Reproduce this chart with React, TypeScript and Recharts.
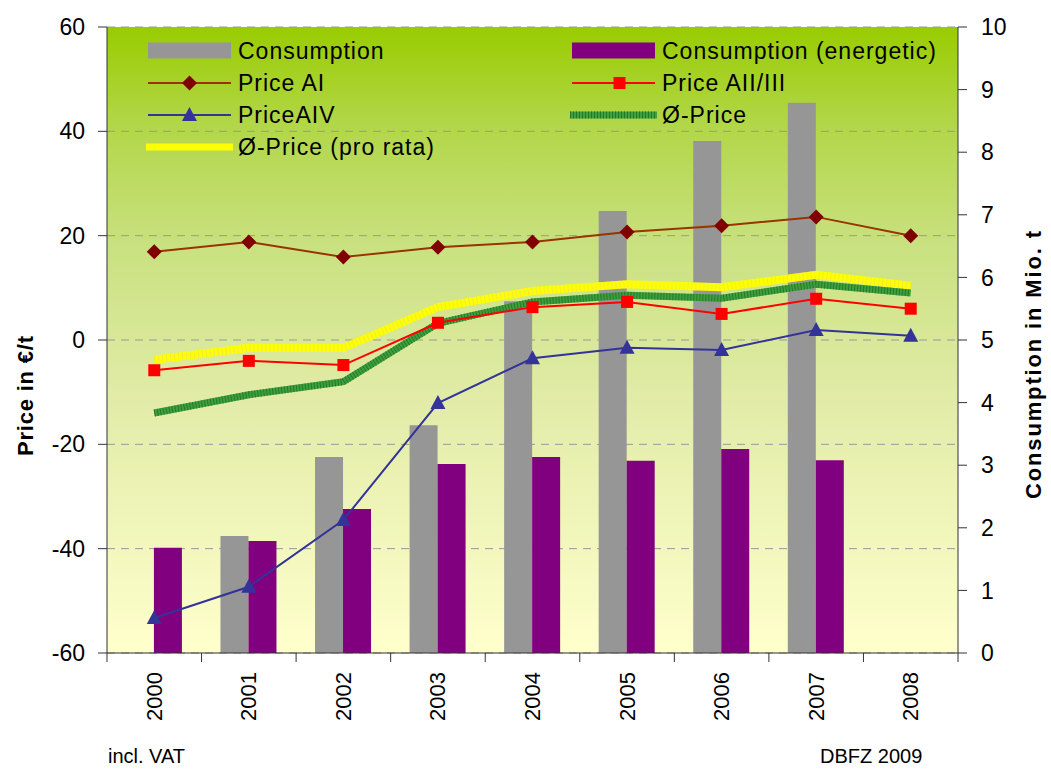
import React from 'react';
import { ComposedChart, Bar, Line, XAxis, YAxis, CartesianGrid } from 'recharts';

const years = ['2000', '2001', '2002', '2003', '2004', '2005', '2006', '2007', '2008'];
const consumption = [null, 1.87, 3.13, 3.64, 5.62, 7.06, 8.18, 8.79, null];
const consumptionEnergetic = [1.68, 1.79, 2.3, 3.02, 3.13, 3.07, 3.26, 3.08, null];
const priceAI = [16.9, 18.8, 15.9, 17.8, 18.8, 20.7, 21.9, 23.6, 20.0];
const priceAII = [-5.8, -4.0, -4.8, 3.3, 6.3, 7.3, 5.0, 7.9, 6.0];
const priceAIV = [-53.3, -47.3, -34.5, -12.1, -3.5, -1.5, -1.9, 1.9, 0.8];
const avgPrice = [-14.0, -10.5, -8.0, 3.2, 7.3, 8.6, 8.0, 10.7, 9.0];
const avgProRata = [-3.8, -1.5, -1.5, 6.3, 9.4, 10.7, 10.1, 12.5, 10.4];
const leftTicks = [-60, -40, -20, 0, 20, 40, 60];
const rightTicks = [0, 1, 2, 3, 4, 5, 6, 7, 8, 9, 10];

const data = years.map((year, i) => ({
  year,
  consumption: consumption[i],
  consumptionEnergetic: consumptionEnergetic[i],
  priceAI: priceAI[i],
  priceAII: priceAII[i],
  priceAIV: priceAIV[i],
  avgPrice: avgPrice[i],
  avgProRata: avgProRata[i],
}));

const FONT = "'Liberation Sans', Arial, sans-serif";
const HALF_BAND = 47.28;

const Diamond = (p: any) => {
  const { cx, cy, index } = p;
  if (cx == null || cy == null) return <g key={`dm-${index}`} />;
  const r = 7.5;
  return <path key={`dm-${index}`} d={`M${cx},${cy - r}L${cx + r},${cy}L${cx},${cy + r}L${cx - r},${cy}Z`} fill="#800000" />;
};
const Square = (p: any) => {
  const { cx, cy, index } = p;
  if (cx == null || cy == null) return <g key={`sq-${index}`} />;
  const r = 6;
  return <rect key={`sq-${index}`} x={cx - r} y={cy - r} width={2 * r} height={2 * r} fill="#ff0000" />;
};
const Triangle = (p: any) => {
  const { cx, cy, index } = p;
  if (cx == null || cy == null) return <g key={`tr-${index}`} />;
  return <path key={`tr-${index}`} d={`M${cx},${cy - 8}L${cx + 7.5},${cy + 6}L${cx - 7.5},${cy + 6}Z`} fill="#333399" />;
};

const XTick = (props: any) => {
  const { x, y, payload, index } = props;
  const ty = y + 19;
  return (
    <g>
      <line x1={x - HALF_BAND} x2={x - HALF_BAND} y1={y} y2={y + 9} stroke="#333" strokeWidth={1} />
      {index === years.length - 1 && (
        <line x1={x + HALF_BAND} x2={x + HALF_BAND} y1={y} y2={y + 9} stroke="#333" strokeWidth={1} />
      )}
      <text
        x={x}
        y={ty}
        transform={`rotate(-90 ${x} ${ty})`}
        textAnchor="end"
        dominantBaseline="central"
        fontSize={22}
        fontFamily={FONT}
        fill="#000"
      >
        {payload.value}
      </text>
    </g>
  );
};

const LegendOverlay = () => {
  const txt = { fontSize: 23, fontFamily: FONT, fill: '#000', letterSpacing: 1 } as any;
  const c1 = 148, t1 = 238, c2 = 572, t2 = 662, w = 83;
  const rows = [50.5, 83, 115, 147];
  return (
    <g>
      <rect x={c1} y={rows[0] - 8} width={w} height={16} fill="#969696" />
      <text x={t1} y={rows[0] + 8} {...txt}>Consumption</text>
      <line x1={c1} x2={c1 + w} y1={rows[1]} y2={rows[1]} stroke="#993300" strokeWidth={2} />
      <Diamond cx={c1 + w / 2} cy={rows[1]} index={100} />
      <text x={t1} y={rows[1] + 8} {...txt}>Price AI</text>
      <line x1={c1} x2={c1 + w} y1={rows[2]} y2={rows[2]} stroke="#333399" strokeWidth={2} />
      <Triangle cx={c1 + w / 2} cy={rows[2]} index={101} />
      <text x={t1} y={rows[2] + 8} {...txt}>PriceAIV</text>
      <line x1={c1 - 2} x2={c1 + w + 2} y1={rows[3]} y2={rows[3]} stroke="#ffff00" strokeWidth={7} />
      <text x={t1} y={rows[3] + 8} {...txt}>Ø-Price (pro rata)</text>

      <rect x={c2} y={rows[0] - 8} width={w} height={16} fill="#800080" />
      <text x={t2} y={rows[0] + 8} {...txt}>Consumption (energetic)</text>
      <line x1={c2} x2={c2 + w} y1={rows[1]} y2={rows[1]} stroke="#ff0000" strokeWidth={2} />
      <Square cx={c2 + w / 2 + 6} cy={rows[1]} index={102} />
      <text x={t2} y={rows[1] + 8} {...txt}>Price AII/III</text>
      <line x1={c2 - 2} x2={c2 + w + 2} y1={rows[2]} y2={rows[2]} stroke="#3f9f3f" strokeWidth={7} />
      <line x1={c2 - 2} x2={c2 + w + 2} y1={rows[2]} y2={rows[2]} stroke="#237a28" strokeWidth={7} strokeDasharray="1 2" />
      <text x={t2} y={rows[2] + 8} {...txt}>Ø-Price</text>
    </g>
  );
};

export default function App() {
  return (
    <div style={{ position: 'absolute', left: 0, top: 0, width: 1051, height: 769, background: '#fff' }}>
      <svg width={0} height={0} style={{ position: 'absolute' }}>
        <defs>
          <linearGradient id="bgGrad" x1="0" y1="0" x2="0" y2="1">
            <stop offset="0%" stopColor="#99cc00" />
            <stop offset="15%" stopColor="#b1d646" />
            <stop offset="35%" stopColor="#c9e180" />
            <stop offset="60%" stopColor="#e2eca8" />
            <stop offset="100%" stopColor="#ffffcc" />
          </linearGradient>
        </defs>
      </svg>
      <ComposedChart
        width={1051}
        height={769}
        data={data}
        margin={{ top: 27, right: 0, bottom: 0, left: 0 }}
        barCategoryGap="20%"
        barGap={0}
      >
        <CartesianGrid
          yAxisId="left"
          vertical={false}
          stroke="#999999"
          strokeDasharray="8 6"
          fill="url(#bgGrad)"
          fillOpacity={1}
        />
        <XAxis
          dataKey="year"
          height={116}
          tickSize={0}
          tickMargin={0}
          tickLine={false}
          axisLine={{ stroke: '#333' }}
          tick={<XTick />}
          interval={0}
        />
        <YAxis
          yAxisId="left"
          domain={[-60, 60]}
          ticks={leftTicks}
          width={107}
          tickSize={9}
          tickMargin={13}
          axisLine={{ stroke: '#333' }}
          tickLine={{ stroke: '#333' }}
          tick={{ fontSize: 23, fill: '#000', fontFamily: FONT }}
          allowDataOverflow
        />
        <YAxis
          yAxisId="right"
          orientation="right"
          domain={[0, 10]}
          ticks={rightTicks}
          width={93}
          tickSize={9}
          tickMargin={14}
          axisLine={{ stroke: '#333' }}
          tickLine={{ stroke: '#333' }}
          tick={{ fontSize: 23, fill: '#000', fontFamily: FONT }}
          allowDataOverflow
        />
        <Bar yAxisId="right" dataKey="consumption" fill="#969696" isAnimationActive={false} />
        <Bar yAxisId="right" dataKey="consumptionEnergetic" fill="#800080" isAnimationActive={false} />
        <Line yAxisId="left" dataKey="avgProRata" stroke="#ffff00" strokeWidth={8} dot={false} isAnimationActive={false} />
        <Line yAxisId="left" dataKey="avgProRata" stroke="#eeee30" strokeWidth={8} strokeDasharray="1 3" dot={false} isAnimationActive={false} />
        <Line yAxisId="left" dataKey="avgPrice" stroke="#3f9f3f" strokeWidth={7} dot={false} isAnimationActive={false} />
        <Line yAxisId="left" dataKey="avgPrice" stroke="#237a28" strokeWidth={7} strokeDasharray="1 2" dot={false} isAnimationActive={false} />
        <Line yAxisId="left" dataKey="priceAI" stroke="#993300" strokeWidth={2} dot={Diamond} isAnimationActive={false} />
        <Line yAxisId="left" dataKey="priceAII" stroke="#ff0000" strokeWidth={2} dot={Square} isAnimationActive={false} />
        <Line yAxisId="left" dataKey="priceAIV" stroke="#333399" strokeWidth={2} dot={Triangle} isAnimationActive={false} />
      </ComposedChart>
      <svg width={1051} height={769} style={{ position: 'absolute', left: 0, top: 0, pointerEvents: 'none' }}>
        <LegendOverlay />
        <text
          transform="translate(25,396) rotate(-90)"
          textAnchor="middle"
          dominantBaseline="central"
          fontSize={22}
          fontWeight="bold"
          fontFamily={FONT}
          fill="#000"
          textLength={120}
          lengthAdjust="spacing"
        >
          Price in €/t
        </text>
        <text
          transform="translate(1033,365) rotate(-90)"
          textAnchor="middle"
          dominantBaseline="central"
          fontSize={22}
          fontWeight="bold"
          fontFamily={FONT}
          fill="#000"
          textLength={268}
          lengthAdjust="spacing"
        >
          Consumption in Mio. t
        </text>
        <text x={108} y={763} fontSize={20} fontFamily={FONT} fill="#000">incl. VAT</text>
        <text x={820} y={763} fontSize={20} fontFamily={FONT} fill="#000">DBFZ 2009</text>
      </svg>
    </div>
  );
}
